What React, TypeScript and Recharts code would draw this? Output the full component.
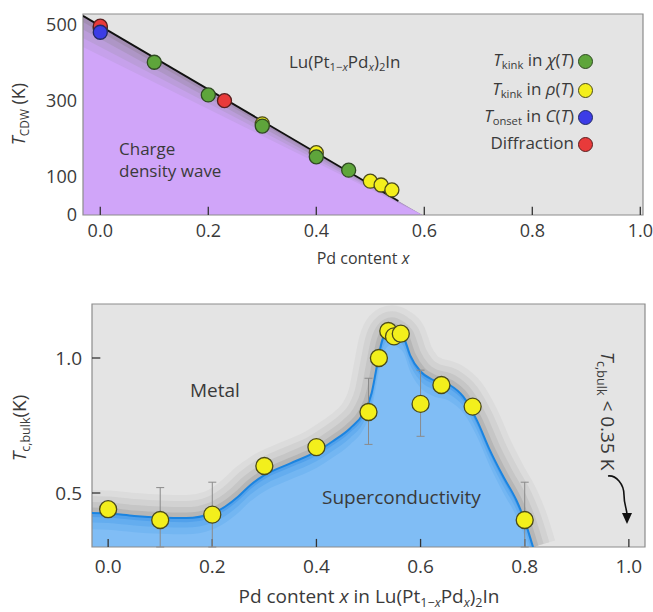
import {
  Area,
  CartesianGrid,
  ComposedChart,
  ErrorBar,
  Line,
  ReferenceArea,
  Scatter,
  XAxis,
  YAxis
} from "recharts";

const FONT = "'Open Sans', 'DejaVu Sans', sans-serif";
const INK = "#3a3a3a";
const PLOT_BG = "#e4e4e4";

// ---- top panel: CDW transition temperature ----
const cdwX = [-0.032, 0.596];
const cdwEdges = [
  [524, 0],
  [508, 0],
  [488, 0],
  [466, 0],
  [442, 0]
];
const cdwEdgeColors = ["#a28db2", "#ae96c6", "#bb9dda", "#c6a1eb", "#d0a5f9"];
const cdwLineX = [-0.032, 0.552];
const cdwLineT = [524, 37];

const chiX = [0, 0.1, 0.2, 0.3, 0.4, 0.46];
const chiT = [490, 402, 316, 234, 153, 118];
const rhoX = [0, 0.3, 0.4, 0.5, 0.52, 0.54];
const rhoT = [494, 240, 164, 89, 79, 66];
const onsetX = [0];
const onsetT = [481];
const diffX = [0, 0.23];
const diffT = [497, 301];

const topXDomain = [-0.032, 1.005];
const topYDomain = [0, 529];
const topXTicks = [0, 0.2, 0.4, 0.6, 0.8, 1.0];
const topYTicks = [0, 100, 300, 500];
const topTickLen = 22; // in kelvin, ~8 px

// ---- bottom panel: bulk Tc ----
const domeX = [
  -0.031, 0, 0.05, 0.1, 0.15, 0.2, 0.225, 0.25, 0.273, 0.3, 0.35, 0.4, 0.43, 0.465, 0.49,
  0.506, 0.516, 0.525, 0.535, 0.545, 0.556, 0.567, 0.58, 0.6, 0.624, 0.656, 0.682, 0.708,
  0.733, 0.759, 0.784, 0.8, 0.816
];
const domeTc = [
  0.426, 0.424, 0.415, 0.409, 0.407, 0.425, 0.45, 0.487, 0.529, 0.566, 0.61, 0.653, 0.69,
  0.74, 0.795, 0.87, 0.969, 1.056, 1.099, 1.11, 1.1, 1.08, 1.01, 0.95, 0.919, 0.9, 0.857,
  0.77, 0.659, 0.56, 0.473, 0.398, 0.3
];

const tcX = [0, 0.1, 0.2, 0.3, 0.4, 0.5, 0.52, 0.538, 0.549, 0.562, 0.6, 0.64, 0.7, 0.8];
const tcVal = [0.44, 0.4, 0.42, 0.6, 0.67, 0.8, 1.0, 1.1, 1.08, 1.09, 0.83, 0.9, 0.82, 0.4];
const tcErrDown = [0.01, 0.1, 0.12, 0.01, 0.01, 0.12, 0.01, 0, 0, 0.01, 0.12, 0, 0.015, 0.1];
const tcErrUp = [0.01, 0.12, 0.12, 0.01, 0.01, 0.125, 0.01, 0, 0, 0.01, 0.125, 0, 0.015, 0.14];

const bottomXDomain = [-0.031, 1.031];
const bottomYDomain = [0.3, 1.2];
const bottomXTicks = [0, 0.2, 0.4, 0.6, 0.8, 1.0];
const bottomYTicks = [0.5, 1.0];
const bottomXTickLen = 0.03; // in K, ~8 px
const bottomYTickLen = 0.016; // in x, ~8 px

// gray halo above the dome line, drawn as wide strokes (widest first)
const haloWidths = [46, 34, 22, 11];
const haloColors = ["#dcdcdc", "#d2d2d2", "#c6c6c6", "#b6b6b6"];
// blue shading under the line, drawn on slightly shifted hidden axes
const shadeShifts = [0, 0.015, 0.035, 0.06];
const shadeColors = ["#52a1eb", "#64adef", "#73b6f2", "#80bdf5"];

const zip = (xs: number[], ys: number[], key: string) =>
  xs.map((x, i) => ({ x, [key]: ys[i] }));

const fmt1 = (v: number) => v.toFixed(1);

function XTick(props: any) {
  const { x, y, payload, fontSize, format } = props;
  return (
    <text x={x} y={y} dy="0.72em" textAnchor="middle" fill={INK} fontFamily={FONT} fontSize={fontSize}>
      {format(payload.value)}
    </text>
  );
}

function YTick(props: any) {
  const { x, y, payload, fontSize, format } = props;
  return (
    <text x={x} y={y} dy="0.36em" textAnchor="end" fill={INK} fontFamily={FONT} fontSize={fontSize}>
      {format(payload.value)}
    </text>
  );
}

const noMark = () => <g />;

function dot(r: number, fill: string, stroke: string) {
  return (p: any) => (
    <circle cx={p.cx} cy={p.cy} r={r} fill={fill} stroke={stroke} strokeWidth={1.3} />
  );
}

const Sub = ({ children }: { children: React.ReactNode }) => (
  <span style={{ fontSize: "0.66em", position: "relative", top: "0.3em" }}>{children}</span>
);
const It = ({ children }: { children: React.ReactNode }) => (
  <span style={{ fontStyle: "italic" }}>{children}</span>
);

function abs(left: number, top: number, extra: React.CSSProperties = {}): React.CSSProperties {
  return {
    position: "absolute",
    left,
    top,
    whiteSpace: "nowrap",
    fontFamily: FONT,
    color: INK,
    lineHeight: "24px",
    ...extra
  };
}

const legendRows = [
  { y: 61, fill: "#5ea53b", stroke: "#2f4a22", label: <><It>T</It><Sub>kink</Sub> in <It>χ</It>(<It>T</It>)</> },
  { y: 90, fill: "#f3ef1c", stroke: "#4b4a1a", label: <><It>T</It><Sub>kink</Sub> in <It>ρ</It>(<It>T</It>)</> },
  { y: 117, fill: "#3c3ce6", stroke: "#222a66", label: <><It>T</It><Sub>onset</Sub> in <It>C</It>(<It>T</It>)</> },
  { y: 144, fill: "#e83a3a", stroke: "#5a1e1e", label: <>Diffraction</> }
];

function TopChart() {
  return (
    <ComposedChart width={653} height={280} margin={{ top: 14, right: 10, bottom: 35, left: 23 }}>
      <CartesianGrid fill={PLOT_BG} stroke="none" horizontal={false} vertical={false} />
      <XAxis
        dataKey="x"
        type="number"
        domain={topXDomain}
        ticks={topXTicks}
        allowDataOverflow
        axisLine={false}
        tickLine={false}
        tickSize={0}
        tickMargin={9}
        height={30}
        tick={(p: any) => <XTick {...p} fontSize={18} format={fmt1} />}
      />
      <YAxis
        type="number"
        domain={topYDomain}
        ticks={topYTicks}
        allowDataOverflow
        axisLine={false}
        tickLine={false}
        tickSize={0}
        tickMargin={6}
        width={60}
        tick={(p: any) => <YTick {...p} fontSize={18} format={(v: number) => String(v)} />}
      />
      {cdwEdges.map((edge, i) => (
        <Area
          key={i}
          data={zip(cdwX, edge, "t")}
          dataKey="t"
          type="linear"
          stroke="none"
          fill={cdwEdgeColors[i]}
          fillOpacity={1}
          baseValue={0}
          isAnimationActive={false}
        />
      ))}
      <Line
        data={zip(cdwLineX, cdwLineT, "t")}
        dataKey="t"
        type="linear"
        stroke="#111"
        strokeWidth={1.8}
        dot={false}
        activeDot={false}
        isAnimationActive={false}
      />
      {/* inward x tick marks */}
      <Scatter
        data={topXTicks.map((x) => ({ x, t: topYDomain[0], len: [0, topTickLen] }))}
        dataKey="t"
        shape={noMark}
        isAnimationActive={false}
      >
        <ErrorBar dataKey="len" direction="y" width={0} stroke="#333" strokeWidth={1.3} />
      </Scatter>
      <Scatter data={zip(rhoX, rhoT, "t")} dataKey="t" shape={dot(7, "#f3ef1c", "#4b4a1a")} isAnimationActive={false} />
      <Scatter data={zip(chiX, chiT, "t")} dataKey="t" shape={dot(7, "#5ea53b", "#2f4a22")} isAnimationActive={false} />
      <Scatter data={zip(diffX, diffT, "t")} dataKey="t" shape={dot(7, "#e83a3a", "#5a1e1e")} isAnimationActive={false} />
      <Scatter data={zip(onsetX, onsetT, "t")} dataKey="t" shape={dot(7, "#3c3ce6", "#222a66")} isAnimationActive={false} />
      <ReferenceArea
        x1={topXDomain[0]}
        x2={topXDomain[1]}
        y1={topYDomain[0]}
        y2={topYDomain[1]}
        fill="none"
        stroke="#8c8c8c"
        strokeWidth={1.2}
      />
    </ComposedChart>
  );
}

function BottomChart() {
  const curve = zip(domeX, domeTc, "tc");
  const points = tcX.map((x, i) => ({ x, tc: tcVal[i], err: [tcErrDown[i], tcErrUp[i]] }));
  return (
    <ComposedChart width={653} height={322} margin={{ top: 14, right: 8, bottom: 35, left: 32 }}>
      <CartesianGrid fill={PLOT_BG} stroke="none" horizontal={false} vertical={false} />
      <XAxis
        dataKey="x"
        type="number"
        domain={bottomXDomain}
        ticks={bottomXTicks}
        allowDataOverflow
        axisLine={false}
        tickLine={false}
        tickSize={0}
        tickMargin={12}
        height={30}
        tick={(p: any) => <XTick {...p} fontSize={19} format={fmt1} />}
      />
      <YAxis
        yAxisId="tc"
        type="number"
        domain={bottomYDomain}
        ticks={bottomYTicks}
        allowDataOverflow
        axisLine={false}
        tickLine={false}
        tickSize={0}
        tickMargin={10}
        width={60}
        tick={(p: any) => <YTick {...p} fontSize={19} format={fmt1} />}
      />
      {shadeShifts.slice(1).map((s, i) => (
        <YAxis
          key={i}
          yAxisId={`s${i + 1}`}
          orientation="right"
          type="number"
          domain={[bottomYDomain[0] + s, bottomYDomain[1] + s]}
          allowDataOverflow
          hide
        />
      ))}
      {haloWidths.map((w, i) => (
        <Area
          key={`h${i}`}
          yAxisId="tc"
          data={curve}
          dataKey="tc"
          type="monotone"
          fill="none"
          stroke={haloColors[i]}
          strokeWidth={w}
          strokeLinejoin="round"
          isAnimationActive={false}
        />
      ))}
      {shadeShifts.map((_, i) => (
        <Area
          key={`a${i}`}
          yAxisId={i === 0 ? "tc" : `s${i}`}
          data={curve}
          dataKey="tc"
          type="monotone"
          stroke="none"
          fill={shadeColors[i]}
          fillOpacity={1}
          baseValue={0.2}
          isAnimationActive={false}
        />
      ))}
      <Line
        yAxisId="tc"
        data={curve}
        dataKey="tc"
        type="monotone"
        stroke="#1b84e0"
        strokeWidth={2}
        dot={false}
        activeDot={false}
        isAnimationActive={false}
      />
      {/* inward tick marks on both axes */}
      <Scatter
        yAxisId="tc"
        data={bottomXTicks.map((x) => ({ x, tc: bottomYDomain[0], len: [0, bottomXTickLen] }))}
        dataKey="tc"
        shape={noMark}
        isAnimationActive={false}
      >
        <ErrorBar dataKey="len" direction="y" width={0} stroke="#333" strokeWidth={1.3} />
      </Scatter>
      <Scatter
        yAxisId="tc"
        data={bottomYTicks.map((tc) => ({ x: bottomXDomain[0], tc, len: [0, bottomYTickLen] }))}
        dataKey="tc"
        shape={noMark}
        isAnimationActive={false}
      >
        <ErrorBar dataKey="len" direction="x" width={0} stroke="#333" strokeWidth={1.3} />
      </Scatter>
      <Scatter
        yAxisId="tc"
        data={points}
        dataKey="tc"
        shape={dot(8.5, "#f3ef1c", "#4b4a1a")}
        isAnimationActive={false}
      >
        <ErrorBar dataKey="err" direction="y" width={4} stroke="#8a8a8a" strokeWidth={1} />
      </Scatter>
      <ReferenceArea
        yAxisId="tc"
        x1={bottomXDomain[0]}
        x2={bottomXDomain[1]}
        y1={bottomYDomain[0]}
        y2={bottomYDomain[1]}
        fill="none"
        stroke="#8c8c8c"
        strokeWidth={1.2}
      />
    </ComposedChart>
  );
}

export default function App() {
  return (
    <div style={{ position: "absolute", left: 0, top: 0, width: 653, height: 612, background: "#fff" }}>
      <div style={{ position: "absolute", left: 0, top: 0 }}>
        <TopChart />
      </div>
      <div style={{ position: "absolute", left: 0, top: 290 }}>
        <BottomChart />
      </div>

      {/* top panel texts */}
      <div style={abs(19, 114, { fontSize: 18, transform: "translate(-50%, -50%) rotate(-90deg)" })}>
        <It>T</It><Sub>CDW</Sub> (K)
      </div>
      <div style={abs(363, 258, { fontSize: 16, transform: "translate(-50%, -50%)" })}>
        Pd content <It>x</It>
      </div>
      <div style={abs(289, 50, { fontSize: 17 })}>
        Lu(Pt<Sub>1−<It>x</It></Sub>Pd<Sub><It>x</It></Sub>)<Sub>2</Sub>In
      </div>
      <div style={abs(119, 138, { fontSize: 17, lineHeight: "22px" })}>
        Charge
        <br />
        density wave
      </div>
      {legendRows.map((r) => (
        <div key={r.y}>
          <div style={abs(374, r.y - 13, { fontSize: 17, width: 200, textAlign: "right" })}>{r.label}</div>
          <div
            style={{
              position: "absolute",
              left: 578,
              top: r.y - 7,
              width: 13,
              height: 13,
              borderRadius: "50%",
              background: r.fill,
              border: `1.3px solid ${r.stroke}`
            }}
          />
        </div>
      ))}

      {/* bottom panel texts */}
      <div style={abs(20, 428, { fontSize: 19, transform: "translate(-50%, -50%) rotate(-90deg)" })}>
        <It>T</It><Sub>c,bulk</Sub>(K)
      </div>
      <div style={abs(369, 597, { fontSize: 19, transform: "translate(-50%, -50%)" })}>
        Pd content <It>x</It> in Lu(Pt<Sub>1−<It>x</It></Sub>Pd<Sub><It>x</It></Sub>)<Sub>2</Sub>In
      </div>
      <div style={abs(190, 378, { fontSize: 19 })}>Metal</div>
      <div style={abs(322, 485, { fontSize: 19 })}>Superconductivity</div>
      <div style={abs(606, 411, { fontSize: 19, transform: "translate(-50%, -50%) rotate(90deg)" })}>
        <It>T</It><Sub>c,bulk</Sub> &lt; 0.35 K
      </div>
      <svg width={653} height={612} style={{ position: "absolute", left: 0, top: 0, pointerEvents: "none" }}>
        <path d="M608 476 C616 475 624 484 624 495 C624 505 627 509 627 515" fill="none" stroke="#111" strokeWidth={1.6} />
        <path d="M627 524 L622 513 L632 513 Z" fill="#111" />
      </svg>
    </div>
  );
}
